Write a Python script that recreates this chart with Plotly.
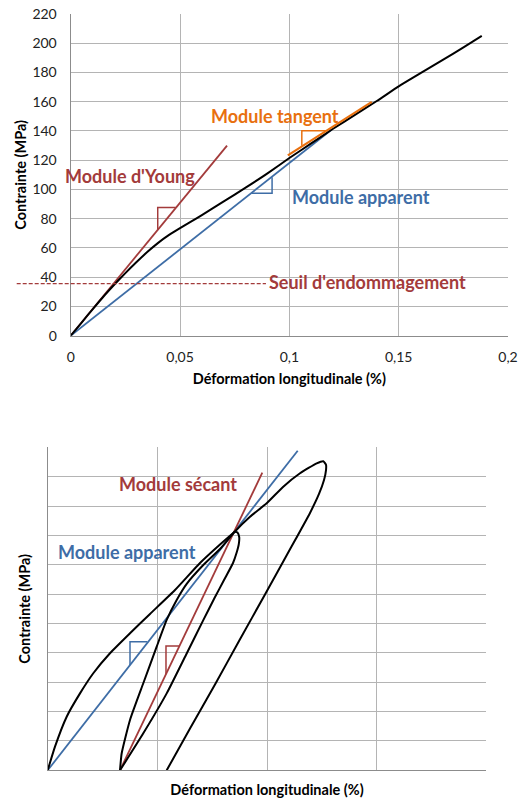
import plotly.graph_objects as go

# **** Data : top chart (monotonic loading)
top_strain = [0, 0.005, 0.01, 0.015, 0.02, 0.025, 0.03, 0.035, 0.04, 0.045, 0.05, 0.055, 0.06, 0.07,
              0.08, 0.09, 0.1, 0.11, 0.12, 0.13, 0.14, 0.15, 0.16, 0.17, 0.18, 0.188]
top_stress = [0, 9, 18, 26.8, 35, 42.8, 50.2, 57.2, 63.5, 68.9, 73.6, 78, 82.5, 91.8,
              101.2, 111, 121.5, 131.5, 141.5, 151, 160.5, 170.5, 179.5, 188.5, 197.5, 205]

young_x = [0, 0.0715]
young_y = [0, 130]
young_tri_x = [0.0398, 0.0398, 0.048]
young_tri_y = [72.4, 87.7, 87.7]

apparent_x = [0, 0.1194]
apparent_y = [0, 141]
apparent_tri_x = [0.0828, 0.0921, 0.0921]
apparent_tri_y = [97.4, 97.4, 108.3]

tangent_x = [0.0993, 0.1377]
tangent_y = [123.3, 159.9]
tangent_tri_x = [0.1057, 0.1057, 0.1168]
tangent_tri_y = [129.9, 140.2, 140.2]

damage_threshold = 35.6
damage_line_end = 0.0893

x_ticks = [0, 0.05, 0.1, 0.15, 0.2]
y_ticks = [0, 20, 40, 60, 80, 100, 120, 140, 160, 180, 200, 220]

# **** Data : bottom chart (cyclic loading)
cycle1_load_x = [0, 0.00333, 0.00866, 0.01473, 0.02079, 0.02841, 0.03753, 0.04665, 0.05805, 0.06945, 0.07857, 0.08527]
cycle1_load_y = [0, 16.1, 36.5, 52.4, 66.1, 79.7, 93.3, 106.5, 122.8, 141.2, 153.8, 162.5]
cycle1_unload_x = [0.08527, 0.08655, 0.08732, 0.08714, 0.08609, 0.0845, 0.0804, 0.07606, 0.07095, 0.06338,
                   0.05426, 0.04359, 0.03297]
cycle1_unload_y = [162.5, 162.0, 158.9, 154.1, 148.0, 141.2, 129.6, 117.3, 102.3, 79.6,
                   52.4, 25.2, 0]
cycle2_x = [0.03297, 0.03374, 0.03753, 0.04359, 0.0497, 0.05426, 0.05882, 0.06338, 0.07095, 0.07857, 0.08527,
            0.09225, 0.09986, 0.10743, 0.11505, 0.12266, 0.12567, 0.12691, 0.12691, 0.126, 0.12371, 0.11961,
            0.11049, 0.09909, 0.08769, 0.07629, 0.06489, 0.05426]
cycle2_y = [0, 11.6, 34.3, 59.3, 84.2, 102.4, 116.0, 127.0, 139.8, 150.7, 162.5,
            172.7, 181.9, 193.2, 202.3, 209.1, 210.5, 208.0, 204.5, 197.7, 188.2, 175.3,
            150.5, 119.8, 89.2, 58.5, 28.5, 0]

secant_x = [0.03297, 0.09786]
secant_y = [0, 202.7]
secant_tri_x = [0.05394, 0.05394, 0.05987]
secant_tri_y = [65.5, 84.7, 84.7]

apparent2_x = [0, 0.114]
apparent2_y = [0, 217.7]
apparent2_tri_x = [0.03753, 0.03753, 0.04542]
apparent2_tri_y = [71.7, 87.6, 87.6]

# **** Styles
red = "#A33B3B"
blue = "#3E6DA6"
orange = "#E8700F"
grid_color = "#B4B4B4"
axis_color = "#8C8C8C"
font_family = "Lato"

fig_width = 519
fig_height = 800


def px_x(px):
    return px / fig_width


def px_y(py):
    return 1 - py / fig_height


top_x_domain = [px_x(70.7), px_x(508)]
top_y_domain = [px_y(335.7), px_y(14)]
bottom_x_domain = [px_x(47.7), px_x(486.3)]
bottom_y_domain = [px_y(770.3), px_y(447.3)]

fig = go.Figure()


def add_line(xs, ys, color, width, xaxis="x", yaxis="y", shape="linear"):
    fig.add_trace(go.Scatter(x=xs, y=ys, mode="lines", xaxis=xaxis, yaxis=yaxis,
                             line=dict(color=color, width=width, shape=shape, smoothing=0.5),
                             hoverinfo="skip", showlegend=False))


# Top chart
add_line(young_x, young_y, red, 1.8)
add_line(young_tri_x, young_tri_y, red, 1.5)
add_line(apparent_x, apparent_y, blue, 1.8)
add_line(apparent_tri_x, apparent_tri_y, blue, 1.5)
add_line(top_strain, top_stress, "black", 2, shape="spline")
add_line(tangent_x, tangent_y, orange, 2.2)
add_line(tangent_tri_x, tangent_tri_y, orange, 1.5)

# Bottom chart
add_line(apparent2_x, apparent2_y, blue, 1.8, "x2", "y2")
add_line(apparent2_tri_x, apparent2_tri_y, blue, 1.5, "x2", "y2")
add_line(secant_x, secant_y, red, 1.8, "x2", "y2")
add_line(secant_tri_x, secant_tri_y, red, 1.5, "x2", "y2")
add_line(cycle1_load_x, cycle1_load_y, "black", 2, "x2", "y2", "spline")
add_line(cycle1_unload_x, cycle1_unload_y, "black", 2, "x2", "y2", "spline")
add_line(cycle2_x, cycle2_y, "black", 2, "x2", "y2", "spline")

# damage threshold : dashed line that runs over the tick labels on the left
line_end_paper = top_x_domain[0] + damage_line_end / 0.2 * (top_x_domain[1] - top_x_domain[0])
fig.add_shape(type="line", xref="paper", yref="y", x0=px_x(16.7), x1=line_end_paper,
              y0=damage_threshold, y1=damage_threshold,
              line=dict(color=red, width=1.3, dash="4px,2px"))

label_font = dict(family=font_family, size=18)
annotations = [
    dict(text="<b>Module d'Young</b>", x=0.0271, y=109.4, xref="x", yref="y", font=dict(label_font, color=red)),
    dict(text="<b>Module tangent</b>", x=0.0935, y=150.5, xref="x", yref="y", font=dict(label_font, color=orange)),
    dict(text="<b>Module apparent</b>", x=0.1328, y=94.7, xref="x", yref="y", font=dict(label_font, color=blue)),
    dict(text="<b>Seuil d'endommagement</b>", x=0.0898, y=36.8, xref="x", yref="y", xanchor="left",
         font=dict(label_font, color=red)),
    dict(text="<b>Module sécant</b>", x=0.0592, y=195, xref="x2", yref="y2", font=dict(label_font, color=red)),
    dict(text="<b>Module apparent</b>", x=0.036, y=148.9, xref="x2", yref="y2", font=dict(label_font, color=blue)),
]
for a in annotations:
    a["showarrow"] = False

axis_common = dict(showgrid=True, gridcolor=grid_color, gridwidth=1.3, zeroline=False, automargin=False,
                   showline=True, linecolor=axis_color, linewidth=1.3, ticks="",
                   tickfont=dict(family=font_family, size=14, color="#222222"))
title_font = dict(family=font_family, size=14.5, color="black")

fig.update_layout(
    template="none",
    width=fig_width,
    height=fig_height,
    margin=dict(l=0, r=0, t=0, b=0),
    paper_bgcolor="white",
    plot_bgcolor="white",
    separators=", ",
    showlegend=False,
    annotations=annotations,
    xaxis=dict(axis_common, domain=top_x_domain, anchor="y", range=[0, 0.2], tickvals=x_ticks,
               ticklabelstandoff=8,
               title=dict(text="<b>Déformation longitudinale (%)</b>", font=title_font, standoff=10)),
    yaxis=dict(axis_common, domain=top_y_domain, anchor="x", range=[0, 220], tickvals=y_ticks,
               ticklabelstandoff=10,
               title=dict(text="<b>Contrainte (MPa)</b>", font=title_font, standoff=2)),
    xaxis2=dict(axis_common, domain=bottom_x_domain, anchor="y2", range=[0, 0.2], tickvals=x_ticks,
                showticklabels=False,
                title=dict(text="<b>Déformation longitudinale (%)</b>", font=title_font, standoff=14)),
    yaxis2=dict(axis_common, domain=bottom_y_domain, anchor="x2", range=[0, 220], tickvals=y_ticks,
                showticklabels=False,
                title=dict(text="<b>Contrainte (MPa)</b>", font=title_font, standoff=12)),
)

# the page has a default body margin; drop it so the figure fills the window
fig.write_html("out.html", config={"displayModeBar": False},
               post_script="document.body.style.margin = '0';")
